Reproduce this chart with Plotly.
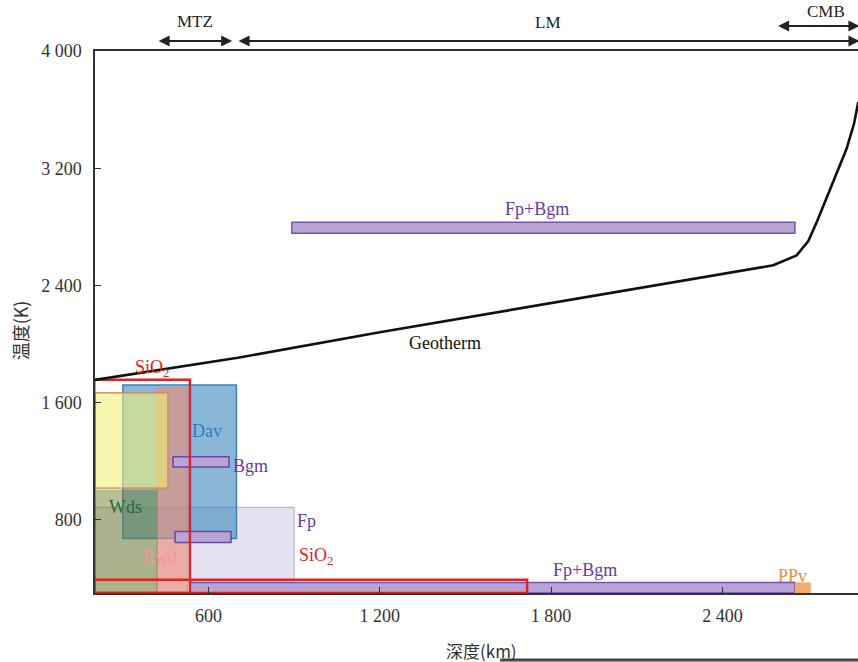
import plotly.graph_objects as go

# Geotherm profile: depth (km) vs temperature (K)
geo_depth = [202, 703, 1200, 2320, 2578, 2660, 2701, 2730, 2783, 2835, 2861, 2876]
geo_temp = [1755, 1906, 2080, 2452, 2537, 2605, 2703, 2830, 3080, 3332, 3503, 3652]

# Stability fields (depth range km, temperature range K)
fp_depth, fp_temp = (202, 900), (300, 885)
dav_depth, dav_temp = (300, 698), (672, 1720)
rwd_depth, rwd_temp = (420, 526), (300, 1700)
pale_depth, pale_temp = (202, 458), (1015, 1666)
wds_depth, wds_temp = (202, 420), (300, 1000)

# Narrow bars
bgm_depths = [(476, 672), (483, 679)]
bgm_temps = [(1160, 1230), (645, 720)]
fpbgm_depths = [(892, 2654), (535, 2654)]
fpbgm_temps = [(2756, 2831), (300, 372)]
ppv_depth, ppv_temp = (2654, 2710), (300, 372)

# SiO2 outlines
sio2_depths = [(200, 535), (200, 1716)]
sio2_temps = [(300, 1755), (300, 391)]

# Region markers above the plot (depth spans)
zones = ["MTZ", "LM", "CMB"]
zone_spans = [(420, 683), (700, 2880), (2590, 2880)]

# Axis ticks
x_ticks = [600, 1200, 1800, 2400]
x_ticktext = ["600", "1 200", "1 800", "2 400"]
y_ticks = [800, 1600, 2400, 3200, 4000]
y_ticktext = ["800", "1 600", "2 400", "3 200", "4 000"]

X_RANGE = [202.5, 2875]
Y_RANGE = [300, 4000]

SERIF = "'Liberation Serif', 'DejaVu Serif', serif"
CJK = "'Noto Sans CJK SC', sans-serif"
PURPLE = "rgb(100,60,160)"
RED = "rgb(225,35,35)"

fig = go.Figure()

fig.add_trace(go.Scatter(
    x=geo_depth, y=geo_temp, mode="lines",
    line=dict(color="#111111", width=2.6),
    hoverinfo="skip", showlegend=False,
))


def rect(depth, temp, fill, line_color=None, line_width=0):
    return dict(
        type="rect", xref="x", yref="y",
        x0=depth[0], x1=depth[1], y0=temp[0], y1=temp[1],
        fillcolor=fill,
        line=dict(color=line_color or "rgba(0,0,0,0)", width=line_width),
        layer="below",
    )


shapes = [
    rect(fp_depth, fp_temp, "rgba(205,195,228,0.5)", "rgba(170,160,210,0.9)", 1),
    rect(dav_depth, dav_temp, "rgba(60,135,190,0.6)", "rgb(60,130,190)", 1.5),
    rect(rwd_depth, rwd_temp, "rgba(235,140,120,0.62)", "rgba(220,140,110,0.8)", 1),
    rect(pale_depth, pale_temp, "rgba(240,240,120,0.6)", "rgba(210,140,100,0.85)", 1.8),
    rect(wds_depth, wds_temp, "rgba(110,130,40,0.5)", "rgba(110,130,60,0.4)", 1),
]
for d, t in zip(bgm_depths, bgm_temps):
    shapes.append(rect(d, t, "rgb(185,165,212)", "rgb(110,70,165)", 1.5))
for d, t in zip(fpbgm_depths, fpbgm_temps):
    shapes.append(rect(d, t, "rgb(185,165,212)", "rgb(120,80,175)", 1.5))
shapes.append(rect(ppv_depth, ppv_temp, "rgb(245,170,110)"))
for d, t in zip(sio2_depths, sio2_temps):
    shapes.append(rect(d, t, "rgba(0,0,0,0)", RED, 2.5))

# bottom rule under the axis title
shapes.append(dict(type="line", xref="paper", yref="paper",
                   x0=0.531, x1=1.0, y0=-0.1236, y1=-0.1236,
                   line=dict(color="#444444", width=3)))

annotations = []


def label(text, x, y, color, size=18):
    annotations.append(dict(
        text=text, x=x, y=y, xref="x", yref="y", showarrow=False,
        font=dict(family=SERIF, size=size, color=color),
    ))


label("SiO<sub>2</sub>", 402, 1831, RED)
label("Dav", 595, 1406, "rgb(50,125,185)")
label("Bgm", 746, 1166, PURPLE)
label("Fp", 945, 789, PURPLE)
label("SiO<sub>2</sub>", 977, 549, RED)
label("Wds", 308, 885, "rgb(45,105,65)")
label("Rwd", 430, 549, "rgb(245,150,150)")
label("Fp+Bgm", 1751, 2921, PURPLE)
label("Fp+Bgm", 1919, 454, PURPLE)
label("PPv", 2644, 413, "rgb(235,140,60)")
label("Geotherm", 1428, 2010, "#111111")

# Zone arrows and names above the frame
arrow_y = [1.0185, 1.0185, 1.0461]
text_y = [1.055, 1.053, 1.072]
for name, (a, b), ay_, ty in zip(zones, zone_spans, arrow_y, text_y):
    annotations.append(dict(
        x=b, y=ay_, xref="x", yref="y domain",
        ax=a, ay=ay_, axref="x", ayref="y domain",
        text="", showarrow=True, arrowhead=2, startarrowhead=2,
        arrowside="end+start", arrowsize=1.1, startarrowsize=1.1,
        arrowwidth=2, arrowcolor="#222222", standoff=0, startstandoff=0,
    ))
    annotations.append(dict(
        text=name, x=(a + b) / 2 if name != "CMB" else 2762, y=ty,
        xref="x", yref="y domain", showarrow=False, yanchor="middle",
        font=dict(family=SERIF, size=17, color="#222222"),
    ))

# Axis titles
annotations.append(dict(text="深度(km)", x=0.506, y=-0.106, xref="paper", yref="paper",
                        xanchor="center", yanchor="middle", showarrow=False,
                        font=dict(family=CJK, size=17, color="#333333")))
annotations.append(dict(text="温度(K)", x=-0.098, y=0.485, xref="paper", yref="paper",
                        xanchor="center", yanchor="middle", showarrow=False, textangle=-90,
                        font=dict(family=CJK, size=18, color="#333333")))

fig.update_layout(
    width=858, height=662,
    margin=dict(l=95, r=0, t=51, b=69),
    paper_bgcolor="white", plot_bgcolor="white",
    shapes=shapes, annotations=annotations, showlegend=False,
    xaxis=dict(range=X_RANGE, tickvals=x_ticks, ticktext=x_ticktext,
               showgrid=False, zeroline=False, showline=True, mirror=True,
               linecolor="#333333", linewidth=1.5, ticks="inside", ticklen=6,
               tickcolor="#333333", tickfont=dict(family=SERIF, size=18, color="#333333"),
               ticklabelstandoff=6),
    yaxis=dict(range=Y_RANGE, tickvals=y_ticks, ticktext=y_ticktext,
               showgrid=False, zeroline=False, showline=True,
               linecolor="#333333", linewidth=1.5, ticks="inside", ticklen=6,
               tickcolor="#333333", tickfont=dict(family=SERIF, size=18, color="#333333"),
               ticklabelstandoff=8),
)

fig.write_html("out.html")
